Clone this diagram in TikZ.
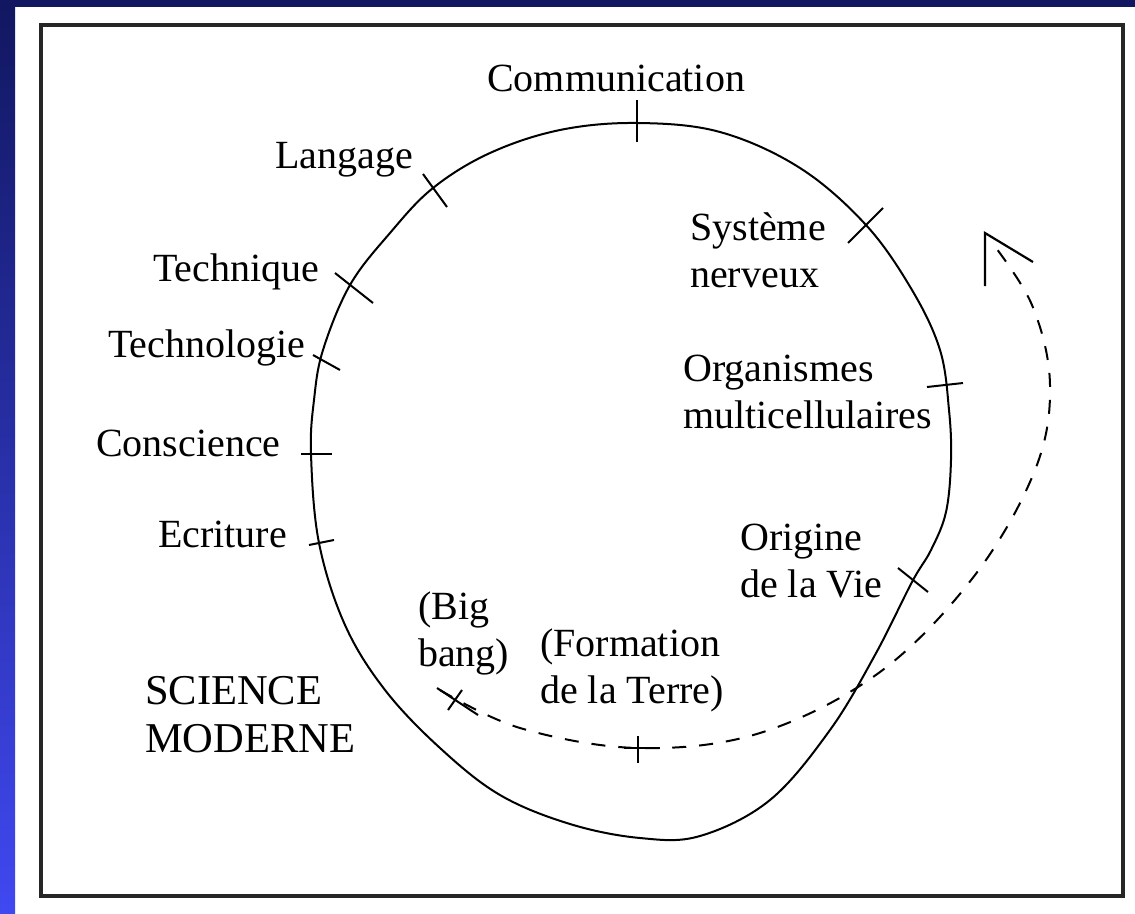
\documentclass[tikz,border=0pt]{standalone}
\usepackage{fontspec}
\setmainfont{Liberation Serif}
\begin{document}
\begin{tikzpicture}[x=1pt,y=-1pt,
  lbl/.style={inner sep=0pt, anchor=north west, align=left, font=\fontsize{40}{47}\selectfont},
  tick/.style={line width=2pt, black},
  curve/.style={line width=2pt, black},
  dashcurve/.style={line width=2pt, black, dash pattern=on 14pt off 13pt}]
\useasboundingbox (0,0) rectangle (1135,913);
\definecolor{navy}{HTML}{111760}
\definecolor{brightblue}{HTML}{4048F0}
\fill[white] (0,0) rectangle (1135,913);
\shade[top color=navy, bottom color=brightblue] (0,0) rectangle (15,913);
\fill[navy] (0,0) rectangle (1135,7);
% frame
\draw[line width=3.5pt, black!85] (41,25) rectangle (1123,896);
% main circle
\draw[curve] plot[smooth cycle, tension=0.6] coordinates {
 (637,123) (720,132) (800,168) (866,225) (912,290) (940,350) (949,410) (951,460)
 (946,512) (931,550) (912,582) (875,655) (830,730) (770,800) (700,836) (640,838) (570,824) (500,795)
 (440,748) (385,690) (345,625) (319,543) (311,454) (314,400) (323,350) (350,285)
 (390,233) (433,188) (490,153) (560,130)};
% dashed spiral
\draw[dashcurve] plot[smooth, tension=0.6] coordinates {
 (440,690) (520,728) (638,748) (760,733) (880,672) (975,575) (1035,470) (1050,385) (1032,305) (990,240)};
% arrowhead
\coordinate (tip) at (985,233);
\coordinate (tipA) at (985,286);
\coordinate (tipB) at (1033,262);
\draw[line width=2.2pt] (tipA) -- (tip) -- (tipB);
% ticks
\draw[tick] (637,100) -- (637,142);
\draw[tick] (423,174) -- (447,207);
\draw[tick] (335,273) -- (373,303);
\draw[tick] (313,355) -- (340,370);
\draw[tick] (301,454) -- (332,454);
\draw[tick] (309,545) -- (334,540);
\draw[tick] (848,243) -- (883,208);
\draw[tick] (927,387) -- (963,383);
\draw[tick] (898,568) -- (928,592);
\draw[tick] (448,710) -- (462,690);
\draw[tick] (437,688) -- (478,715);
\draw[tick] (638,736) -- (638,763);
\draw[tick] (624,748) -- (660,748);
% labels
\node[lbl] (comm) at (487,65) {Communication};
\node[lbl] (lang) at (275,142) {Langage};
\node[lbl] (tech) at (153,254) {Technique};
\node[lbl] (techno) at (108,330) {Technologie};
\node[lbl] (consc) at (96,430) {Conscience};
\node[lbl] (ecrit) at (158,521) {Ecriture};
\node[lbl] (sys) at (690,212) {Système\\nerveux};
\node[lbl] (org) at (683,355) {Organismes\\multicellulaires};
\node[lbl] (orig) at (740,524) {Origine\\de la Vie};
\node[lbl] (big) at (418,592) {(Big\\bang)};
\node[lbl] (form) at (540,629) {(Formation\\de la Terre)};
\node[lbl, font=\fontsize{42.5}{48}\selectfont] (sci) at (145,676) {SCIENCE\\MODERNE};
\end{tikzpicture}
\end{document}
